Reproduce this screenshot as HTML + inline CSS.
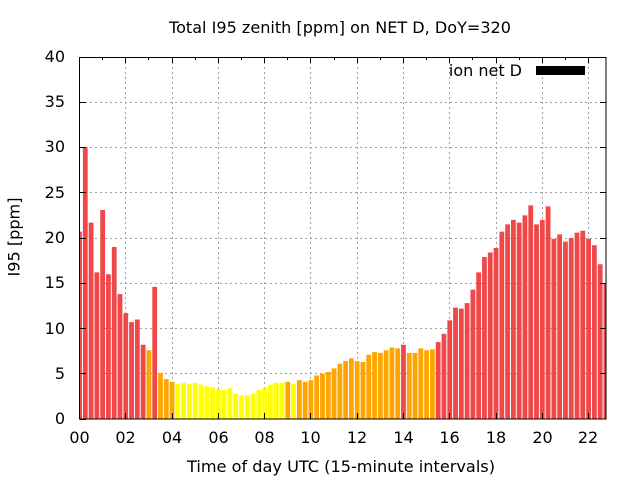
<!DOCTYPE html>
<html>
<head>
<meta charset="utf-8">
<style>
html,body{margin:0;padding:0;background:#fff;}
svg{display:block;}
text{font-family:"DejaVu Sans","Liberation Sans",sans-serif;fill:#000;}
</style>
</head>
<body>
<svg width="640" height="480" viewBox="0 0 640 480" xmlns="http://www.w3.org/2000/svg">
<rect x="0" y="0" width="640" height="480" fill="#fff"/>
<defs>
<clipPath id="pc"><rect x="79.5" y="57" width="526.5" height="362"/></clipPath>
</defs>
<path fill="none" stroke="#a0a0a0" stroke-width="1" stroke-dasharray="2,3" d="M80 373.5H606M80 328.5H606M80 283.5H606M80 238.5H606M80 192.5H606M80 147.5H606M80 102.5H606M125.5 57V419M172.5 57V419M218.5 57V419M264.5 57V419M310.5 57V419M357.5 57V419M403.5 57V419M449.5 57V419M496.5 57V419M542.5 57V419M588.5 57V419"/>
<g clip-path="url(#pc)">
<g transform="translate(79.5,419) scale(23.14,-9.05)" fill="none" stroke-width="4.8">
<path vector-effect="non-scaling-stroke" stroke="#f04848" d="M0 0V20.7M.25 0V30M.5 0V21.7M.75 0V16.2M1 0V23.1M1.25 0V16M1.5 0V19M1.75 0V13.8M2 0V11.7M2.25 0V10.7M2.5 0V11M2.75 0V8.2M3.25 0V14.6M14 0V8.2M15.5 0V8.5M15.75 0V9.4M16 0V10.9M16.25 0V12.3M16.5 0V12.2M16.75 0V12.8M17 0V14.3M17.25 0V16.2M17.5 0V17.9M17.75 0V18.4M18 0V18.9M18.25 0V20.7M18.5 0V21.5M18.75 0V22M19 0V21.7M19.25 0V22.5M19.5 0V23.6M19.75 0V21.5M20 0V22M20.25 0V23.5M20.5 0V19.9M20.75 0V20.4M21 0V19.6M21.25 0V20M21.5 0V20.6M21.75 0V20.8M22 0V19.9M22.25 0V19.2M22.5 0V17.1M22.75 0V15"/>
<path vector-effect="non-scaling-stroke" stroke="#ffa500" d="M3 0V7.6M3.5 0V5.1M3.75 0V4.4M4 0V4.1M9 0V4.1M9.5 0V4.3M9.75 0V4.1M10 0V4.3M10.25 0V4.8M10.5 0V5M10.75 0V5.2M11 0V5.6M11.25 0V6.1M11.5 0V6.4M11.75 0V6.7M12 0V6.4M12.25 0V6.3M12.5 0V7.1M12.75 0V7.4M13 0V7.3M13.25 0V7.6M13.5 0V7.9M13.75 0V7.8M14.25 0V7.3M14.5 0V7.3M14.75 0V7.8M15 0V7.6M15.25 0V7.7"/>
<path vector-effect="non-scaling-stroke" stroke="#ffff00" d="M4.25 0V3.9M4.5 0V4M4.75 0V3.9M5 0V4M5.25 0V3.8M5.5 0V3.6M5.75 0V3.5M6 0V3.3M6.25 0V3.2M6.5 0V3.4M6.75 0V2.8M7 0V2.6M7.25 0V2.6M7.5 0V2.8M7.75 0V3.2M8 0V3.4M8.25 0V3.8M8.5 0V4M8.75 0V4M9.25 0V3.9"/>
</g>
</g>
<g stroke="#000" stroke-width="1" fill="none">
<path d="M80 419.5h6M80 373.5h6M80 328.5h6M80 283.5h6M80 238.5h6M80 192.5h6M80 147.5h6M80 102.5h6M80 57.5h6M606 373.5h-6M606 328.5h-6M606 283.5h-6M606 238.5h-6M606 192.5h-6M606 147.5h-6M606 102.5h-6"/>
<path d="M125.5 57v6M172.5 57v6M218.5 57v6M264.5 57v6M310.5 57v6M357.5 57v6M403.5 57v6M449.5 57v6M496.5 57v6M542.5 57v6M588.5 57v6M102.5 57v3M148.5 57v3M195.5 57v3M241.5 57v3M287.5 57v3M334.5 57v3M380.5 57v3M426.5 57v3M472.5 57v3M519.5 57v3M565.5 57v3"/>
<path d="M125.5 419v-6M172.5 419v-6M218.5 419v-6M264.5 419v-6M310.5 419v-6M357.5 419v-6M403.5 419v-6M449.5 419v-6M496.5 419v-6M542.5 419v-6M588.5 419v-6"/>
<rect x="79.5" y="57.5" width="526.5" height="361.5"/>
</g>
<g font-size="16" text-anchor="end">
<text x="65" y="424">0</text>
<text x="65" y="379">5</text>
<text x="65" y="334">10</text>
<text x="65" y="288">15</text>
<text x="65" y="243">20</text>
<text x="65" y="198">25</text>
<text x="65" y="152">30</text>
<text x="65" y="107">35</text>
<text x="65" y="62">40</text>
</g>
<g font-size="16" text-anchor="middle">
<text x="79.5" y="443">00</text>
<text x="125.5" y="443">02</text>
<text x="172" y="443">04</text>
<text x="218.5" y="443">06</text>
<text x="264.5" y="443">08</text>
<text x="310.5" y="443">10</text>
<text x="357" y="443">12</text>
<text x="403.5" y="443">14</text>
<text x="449.5" y="443">16</text>
<text x="496" y="443">18</text>
<text x="542.5" y="443">20</text>
<text x="588" y="443">22</text>
</g>
<text x="340" y="33" font-size="16" text-anchor="middle" textLength="342" lengthAdjust="spacingAndGlyphs">Total I95 zenith [ppm] on NET D, DoY=320</text>
<text x="341" y="472" font-size="16" text-anchor="middle" textLength="308" lengthAdjust="spacingAndGlyphs">Time of day UTC (15-minute intervals)</text>
<text transform="translate(19.5,237) rotate(-90)" font-size="16" text-anchor="middle" textLength="79" lengthAdjust="spacingAndGlyphs">I95 [ppm]</text>
<text x="522" y="76" font-size="16" text-anchor="end">ion net D</text>
<rect x="536" y="66" width="49" height="9" fill="#000"/>
</svg>
</body>
</html>
